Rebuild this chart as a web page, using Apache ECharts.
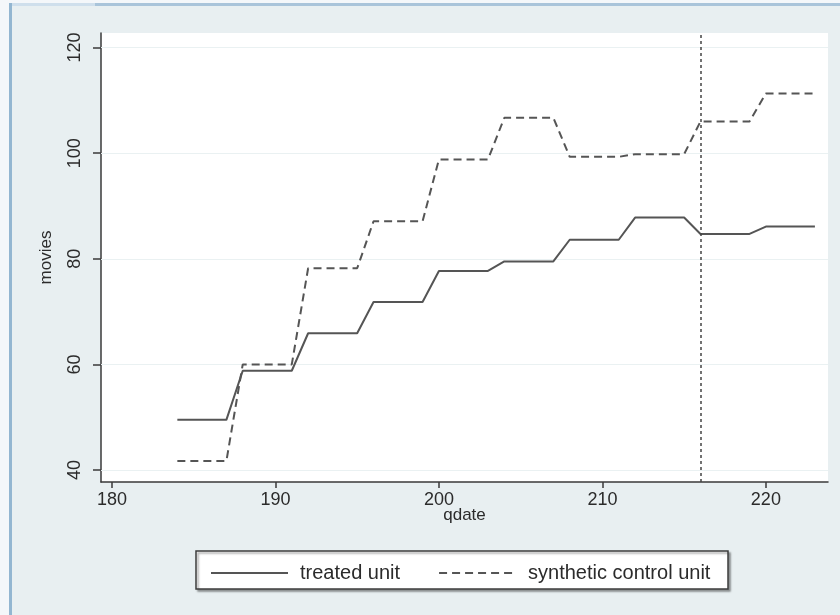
<!DOCTYPE html>
<html>
<head>
<meta charset="utf-8">
<script src="https://cdn.jsdelivr.net/npm/echarts@6/dist/echarts.min.js"></script>
<style>
  html, body { margin: 0; padding: 0; background: #ffffff; }
  #chart { width: 840px; height: 615px; }
</style>
</head>
<body>
<div id="chart"></div>
<script>
// Quarterly dates (Stata %tq numbering)
const qdate = [184, 185, 186, 187, 188, 189, 190, 191, 192, 193,
               194, 195, 196, 197, 198, 199, 200, 201, 202, 203,
               204, 205, 206, 207, 208, 209, 210, 211, 212, 213,
               214, 215, 216, 217, 218, 219, 220, 221, 222, 223];

// Outcome for the treated unit
const treatedUnit = [49.5, 49.5, 49.5, 49.5, 58.8, 58.8, 58.8, 58.8, 65.9, 65.9,
                     65.9, 65.9, 71.8, 71.8, 71.8, 71.8, 77.7, 77.7, 77.7, 77.7,
                     79.5, 79.5, 79.5, 79.5, 83.6, 83.6, 83.6, 83.6, 87.8, 87.8,
                     87.8, 87.8, 84.7, 84.7, 84.7, 84.7, 86.1, 86.1, 86.1, 86.1];

// Outcome for the synthetic control unit
const syntheticControl = [41.7, 41.7, 41.7, 41.7, 60.0, 60.0, 60.0, 60.0, 78.2, 78.2,
                          78.2, 78.2, 87.1, 87.1, 87.1, 87.1, 98.8, 98.8, 98.8, 98.8,
                          106.7, 106.7, 106.7, 106.7, 99.3, 99.3, 99.3, 99.3, 99.8, 99.8,
                          99.8, 99.8, 106.0, 106.0, 106.0, 106.0, 111.3, 111.3, 111.3, 111.3];

const xTicks = [180, 190, 200, 210, 220];
const yTicks = [40, 60, 80, 100, 120];
const treatmentDate = 216;
const seriesNames = ['treated unit', 'synthetic control unit'];

const ink = '#3a3a3a';
const lineInk = '#555555';
const textInk = '#2b2b2b';
const font = 'Liberation Sans, Arial, sans-serif';

const chart = echarts.init(document.getElementById('chart'), null, { renderer: 'canvas' });

const option = {
  animation: false,
  backgroundColor: '#e8eff1',
  textStyle: { fontFamily: font },
  graphic: [
    // window frame
    { type: 'rect', z: 0, shape: { x: 0, y: 0, width: 840, height: 4 }, style: { fill: '#f4f7fa' } },
    { type: 'rect', z: 0, shape: { x: 0, y: 0, width: 9, height: 615 }, style: { fill: '#f4f7fa' } },
    { type: 'rect', z: 0, shape: { x: 95, y: 3, width: 745, height: 3 }, style: { fill: '#a9c4da' } },
    { type: 'rect', z: 0, shape: { x: 9, y: 3, width: 86, height: 3 }, style: { fill: '#cfdfec' } },
    { type: 'rect', z: 0, shape: { x: 9, y: 3, width: 3, height: 612 }, style: { fill: '#93b6d1' } },
    // legend frame
    {
      type: 'rect', z: 1,
      shape: { x: 196, y: 551, width: 532, height: 38 },
      style: {
        fill: '#ffffff', stroke: '#3c3c3c', lineWidth: 1.5,
        shadowColor: 'rgba(0,0,0,0.35)', shadowBlur: 2, shadowOffsetX: 2, shadowOffsetY: 2
      }
    }
  ],
  grid: {
    left: 101, top: 33, width: 727, height: 449,
    show: true, backgroundColor: '#ffffff', borderWidth: 0
  },
  legend: {
    data: seriesNames,
    left: 205, top: 558,
    itemWidth: 77, itemHeight: 14, itemGap: 38,
    itemStyle: { opacity: 0 },
    textStyle: { fontSize: 20, color: textInk, fontFamily: font, padding: [0, 0, 0, 7] },
    selectedMode: false
  },
  xAxis: {
    type: 'value',
    min: 179.33, max: 223.8,
    name: 'qdate', nameLocation: 'middle', nameGap: 25, nameMoveOverlap: false,
    nameTextStyle: { fontSize: 17, color: textInk },
    axisLine: { show: true, onZero: false, lineStyle: { color: ink, width: 1.5 } },
    axisTick: { show: true, customValues: xTicks, length: 6, lineStyle: { color: ink, width: 1.5 } },
    axisLabel: { customValues: xTicks, fontSize: 18, color: textInk, margin: 9 },
    splitLine: { show: false }
  },
  yAxis: {
    type: 'value',
    min: 37.73, max: 122.75,
    name: 'movies', nameLocation: 'middle', nameGap: 46,
    nameTextStyle: { fontSize: 17, color: textInk },
    axisLine: { show: true, onZero: false, lineStyle: { color: ink, width: 1.5 } },
    axisTick: { show: true, customValues: yTicks, length: 8, lineStyle: { color: ink, width: 1.5 } },
    axisLabel: { customValues: yTicks, fontSize: 18, color: textInk, rotate: 90, margin: 17 },
    splitLine: { show: false }
  },
  series: [
    {
      name: seriesNames[0],
      type: 'line',
      data: qdate.map((q, i) => [q, treatedUnit[i]]),
      symbol: 'none',
      lineStyle: { color: lineInk, width: 2 },
      itemStyle: { color: lineInk },
      z: 3,
      markLine: {
        silent: true, symbol: 'none', label: { show: false },
        lineStyle: { color: '#eaf1f2', width: 1.2, type: 'solid' },
        data: yTicks.map(v => ({ yAxis: v })),
        z: 1
      }
    },
    {
      name: seriesNames[1],
      type: 'line',
      data: qdate.map((q, i) => [q, syntheticControl[i]]),
      symbol: 'none',
      lineStyle: { color: lineInk, width: 2, type: [8, 5] },
      itemStyle: { color: lineInk },
      z: 3,
      markLine: {
        silent: true, symbol: 'none', label: { show: false },
        lineStyle: { color: '#444444', width: 1.5, type: [3, 3] },
        data: [{ xAxis: treatmentDate }]
      }
    }
  ]
};

chart.setOption(option);
</script>
</body>
</html>
